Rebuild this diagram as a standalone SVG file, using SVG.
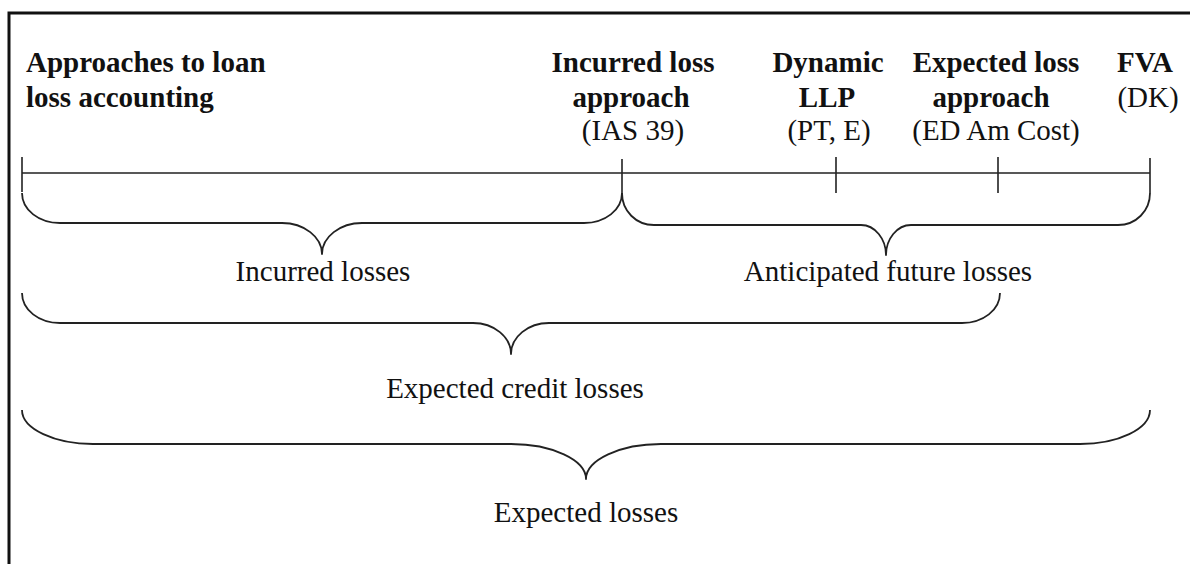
<svg xmlns="http://www.w3.org/2000/svg" width="1190" height="564" viewBox="0 0 1190 564">
<style>
text{font-family:'Liberation Serif','DejaVu Serif',serif;font-size:29px;fill:#111;text-anchor:middle}
.b{font-weight:bold}
.s{text-anchor:start}
.ln{fill:none;stroke:#222;stroke-width:1.6}
.br{fill:none;stroke:#222;stroke-width:1.8;stroke-linejoin:round}
</style>
<rect width="1190" height="564" fill="#fff"/>
<path d="M9,564 V13 H1190" fill="none" stroke="#111" stroke-width="3"/>
<g id="title" font-family="Liberation Serif, serif">
<text class="b s" x="26" y="72">Approaches to loan</text>
<text class="b s" x="26" y="107">loss accounting</text>
</g>
<g id="axis">
<path class="ln" d="M22,173 H1150 M22,157 V192 M622,159 V193 M836,157 V193 M998,157 V193 M1150,158 V193"/>
</g>
<g id="incurred-approach">
<text class="b" x="633" y="72">Incurred loss</text>
<text class="b" x="631" y="107">approach</text>
<text x="633" y="140">(IAS 39)</text>
</g>
<g id="dynamic-llp">
<text class="b" x="828" y="72">Dynamic</text>
<text class="b" x="827" y="107">LLP</text>
<text x="829" y="140">(PT, E)</text>
</g>
<g id="expected-approach">
<text class="b" x="996" y="72">Expected loss</text>
<text class="b" x="991" y="107">approach</text>
<text x="996" y="140">(ED Am Cost)</text>
</g>
<g id="fva">
<text class="b" x="1145" y="72">FVA</text>
<text x="1148" y="107">(DK)</text>
</g>
<g id="connectors">
<path class="br" d="M22,193 C22,210 39,223 60,223 H282 C304,223 322,237 322,254 C322,237 340,223 362,223 H584 C605,223 622,210 622,193"/>
<path class="br" d="M622,193 C622,211 636,225 654,225 H861 C875,225 886,239 886,255 C886,239 897,225 911,225 H1118 C1136,225 1150,211 1150,193"/>
<path class="br" d="M22,293 C22,310 39,323 60,323 H473 C494,323 511,337 511,354 C511,337 528,323 549,323 H962 C983,323 1000,310 1000,293"/>
<path class="br" d="M22,410 C22,429 55,444 93,444 H511 C552,444 586,460 586,479 C586,460 620,444 661,444 H1080 C1118,444 1150,429 1150,410"/>
</g>
<g id="incurred-losses"><text x="323" y="281">Incurred losses</text></g>
<g id="anticipated-losses"><text x="888" y="281">Anticipated future losses</text></g>
<g id="expected-credit-losses"><text x="515" y="398">Expected credit losses</text></g>
<g id="expected-losses"><text x="586" y="522">Expected losses</text></g>
</svg>
